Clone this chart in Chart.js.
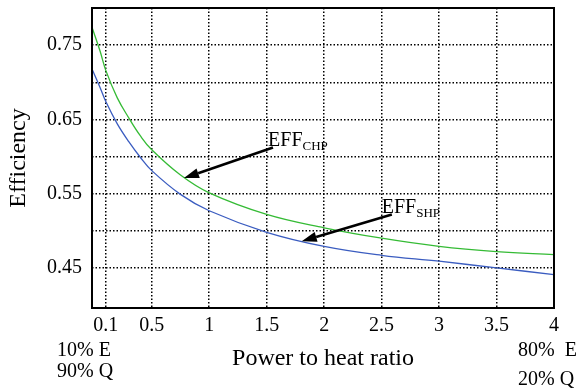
<!DOCTYPE html>
<html>
<head>
<meta charset="utf-8">
<script src="https://cdn.jsdelivr.net/npm/chart.js@4/dist/chart.umd.min.js"></script>
<style>
  html, body { margin: 0; padding: 0; background: #fff; }
  #wrap { width: 586px; height: 392px; }
</style>
</head>
<body>
<div id="wrap"><canvas id="chart"></canvas></div>
<script>
// power to heat ratio (x) and the two efficiency curves
const ratio  = [-0.02, 0.05, 0.1, 0.2, 0.3, 0.4, 0.5, 0.75, 1, 1.5, 2, 2.5, 3, 3.5, 4];
const effCHP = [0.774, 0.742, 0.716, 0.679, 0.652, 0.628, 0.609, 0.575, 0.551, 0.522, 0.504, 0.490, 0.479, 0.472, 0.468];
const effSHP = [0.718, 0.693, 0.674, 0.644, 0.620, 0.599, 0.581, 0.549, 0.527, 0.498, 0.479, 0.467, 0.459, 0.450, 0.441];

const xTicks = [0.1, 0.5, 1, 1.5, 2, 2.5, 3, 3.5, 4];
const yGrid = [0.45, 0.50, 0.55, 0.60, 0.65, 0.70, 0.75];
const yTickLabels = ['0.45', '0.55', '0.65', '0.75'];

const SERIF = "'Liberation Serif', 'Times New Roman', serif";

// arrow callouts, in data coordinates
const callouts = [
    { text: 'EFF', sub: 'CHP', at: [1.512, 0.614], from: [1.555, 0.612], to: [0.78, 0.571] },
    { text: 'EFF', sub: 'SHP', at: [2.501, 0.524], from: [2.589, 0.522], to: [1.805, 0.486] }
];

function toPoints(ys) {
    return ratio.map((x, i) => ({ x: x, y: ys[i] }));
}

// frame around the plot area (all four sides)
const framePlugin = {
    id: 'frame',
    afterDatasetsDraw(chart) {
        const { ctx, chartArea: a } = chart;
        ctx.save();
        ctx.strokeStyle = '#000';
        ctx.lineWidth = 2;
        ctx.strokeRect(a.left, a.top, a.right - a.left, a.bottom - a.top);
        ctx.restore();
    }
};

// arrows + EFF labels, and the E/Q notes under the x axis
const notesPlugin = {
    id: 'notes',
    afterDraw(chart) {
        const ctx = chart.ctx;
        const xs = chart.scales.x, ys = chart.scales.y;
        ctx.save();
        ctx.fillStyle = '#000';
        ctx.strokeStyle = '#000';

        callouts.forEach(c => {
            const x1 = xs.getPixelForValue(c.from[0]), y1 = ys.getPixelForValue(c.from[1]);
            const x2 = xs.getPixelForValue(c.to[0]), y2 = ys.getPixelForValue(c.to[1]);
            const ang = Math.atan2(y2 - y1, x2 - x1);
            const headLen = 15, headW = 5;
            const bx = x2 - headLen * Math.cos(ang), by = y2 - headLen * Math.sin(ang);
            ctx.lineWidth = 2.6;
            ctx.beginPath();
            ctx.moveTo(x1, y1);
            ctx.lineTo(bx, by);
            ctx.stroke();
            ctx.beginPath();
            ctx.moveTo(x2, y2);
            ctx.lineTo(bx + headW * Math.sin(ang), by - headW * Math.cos(ang));
            ctx.lineTo(bx - headW * Math.sin(ang), by + headW * Math.cos(ang));
            ctx.closePath();
            ctx.fill();

            const tx = xs.getPixelForValue(c.at[0]), ty = ys.getPixelForValue(c.at[1]);
            ctx.textBaseline = 'alphabetic';
            ctx.textAlign = 'left';
            ctx.font = '20px ' + SERIF;
            ctx.fillText(c.text, tx, ty);
            const w = ctx.measureText(c.text).width;
            ctx.font = '13px ' + SERIF;
            ctx.fillText(c.sub, tx + w, ty + 4);
        });

        ctx.font = '20px ' + SERIF;
        ctx.textAlign = 'left';
        ctx.fillText('10% E', 57, 356);
        ctx.fillText('90% Q', 57, 377);
        ctx.fillText('80%  E', 518, 356);
        ctx.fillText('20% Q', 518, 385);
        ctx.restore();
    }
};

Chart.defaults.font.family = SERIF;
Chart.defaults.color = '#000';

// dotted black grid (v4 keeps the dash pattern under "border")
const gridDots = { color: '#000', lineWidth: 1.5, drawTicks: false };
const dotBorder = { display: false, dash: [1.5, 2] };

new Chart(document.getElementById('chart'), {
    type: 'line',
    data: {
        datasets: [
            {
                label: 'EFF CHP',
                data: toPoints(effCHP),
                borderColor: '#35bb35',
                borderWidth: 1.3,
                pointRadius: 0,
                tension: 0.4,
                fill: false
            },
            {
                label: 'EFF SHP',
                data: toPoints(effSHP),
                borderColor: '#3a5cc0',
                borderWidth: 1.3,
                pointRadius: 0,
                tension: 0.4,
                fill: false
            }
        ]
    },
    options: {
        responsive: true,
        maintainAspectRatio: false,
        animation: false,
        layout: { padding: { left: 0, top: 8, right: 32, bottom: 0 } },
        plugins: {
            legend: { display: false },
            tooltip: { enabled: false }
        },
        scales: {
            x: {
                type: 'linear',
                min: -0.02,
                max: 4,
                afterBuildTicks: s => { s.ticks = xTicks.map(v => ({ value: v })); },
                afterFit: s => { s.height = 84; s.paddingLeft = 0; s.paddingRight = 0; },
                grid: gridDots,
                border: dotBorder,
                ticks: {
                    autoSkip: false,
                    maxRotation: 0,
                    padding: 6,
                    font: { size: 20 },
                    callback: v => String(v)
                },
                title: {
                    display: true,
                    text: 'Power to heat ratio',
                    font: { size: 24 },
                    padding: { top: 0, bottom: 19 }
                }
            },
            y: {
                min: 0.396,
                max: 0.80,
                afterBuildTicks: s => { s.ticks = yGrid.map(v => ({ value: v })); },
                afterFit: s => { s.width = 92; s.paddingTop = 0; s.paddingBottom = 0; },
                grid: gridDots,
                border: dotBorder,
                ticks: {
                    padding: 10,
                    font: { size: 20 },
                    callback: v => {
                        const t = v.toFixed(2);
                        return yTickLabels.includes(t) ? t : '';
                    }
                },
                title: {
                    display: true,
                    text: 'Efficiency',
                    font: { size: 24 },
                    padding: { top: 4, bottom: 0 }
                }
            }
        }
    },
    plugins: [framePlugin, notesPlugin]
});
</script>
</body>
</html>
